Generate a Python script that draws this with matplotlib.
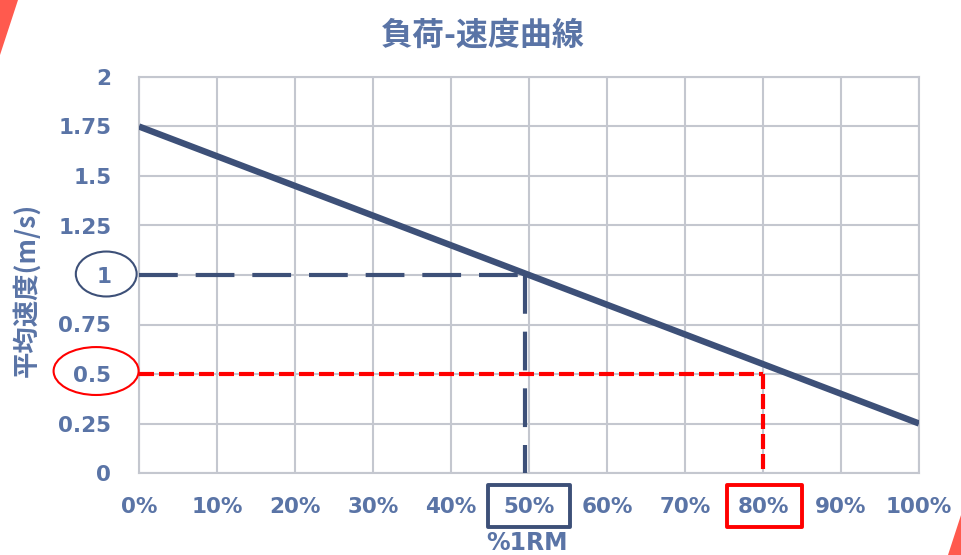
import matplotlib
matplotlib.use("Agg")
import matplotlib.pyplot as plt
from matplotlib.patches import Ellipse, Rectangle, Polygon

plt.rcParams['font.family'] = ['DejaVu Sans', 'Noto Sans CJK JP']

# Load-velocity relationship (%1RM vs mean velocity)
load_pct = [0, 100]
velocity = [1.75, 0.25]

x_ticks = [0, 10, 20, 30, 40, 50, 60, 70, 80, 90, 100]
x_labels = ['0%', '10%', '20%', '30%', '40%', '50%', '60%', '70%', '80%', '90%', '100%']
y_ticks = [0, 0.25, 0.5, 0.75, 1, 1.25, 1.5, 1.75, 2]
y_labels = ['0', '0.25', '0.5', '0.75', '1', '1.25', '1.5', '1.75', '2']

# Reference guides
guide_navy_x = 49.5
guide_navy_y = 1.0
guide_red_x = 80
guide_red_y = 0.5

title = '負荷-速度曲線'
x_title = '%1RM'
y_title = '平均速度(m/s)'

NAVY = '#3D5078'
TEXT = '#5A74A6'
GRID = '#C4C7CF'
RED = '#FF0000'
ACCENT = '#FF5A4E'

W, H = 962, 555
fig = plt.figure(figsize=(W / 100, H / 100), dpi=100)
ax = fig.add_axes([139 / W, 82 / H, 780 / W, 396 / H])

ax.set_xlim(0, 100)
ax.set_ylim(0, 2)
ax.set_xticks(x_ticks)
ax.set_xticklabels(x_labels)
ax.set_yticks(y_ticks)
ax.set_yticklabels(y_labels)
ax.grid(True, color=GRID, linewidth=1.5)
ax.set_axisbelow(True)
for s in ax.spines.values():
    s.set_color(GRID)
    s.set_linewidth(1.5)
ax.tick_params(length=0, colors=TEXT, labelsize=15.5)
ax.tick_params(axis='x', pad=17)
ax.tick_params(axis='y', pad=20)
for lbl in ax.get_xticklabels() + ax.get_yticklabels():
    lbl.set_fontweight('bold')

# Guide lines
ax.plot([0, guide_navy_x], [guide_navy_y, guide_navy_y], color=NAVY, lw=3.0,
        dashes=(9.3, 4.3), zorder=3)
ax.plot([guide_navy_x, guide_navy_x], [guide_navy_y, 0], color=NAVY, lw=3.0,
        dashes=(9.3, 4.3), zorder=3)
ax.plot([0, guide_red_x], [guide_red_y, guide_red_y], color=RED, lw=3.0,
        dashes=(3.6, 1.2), zorder=3)
ax.plot([guide_red_x, guide_red_x], [guide_red_y, 0], color=RED, lw=3.0,
        dashes=(3.6, 1.2), zorder=3)

# Main curve
ax.plot(load_pct, velocity, color=NAVY, lw=4.6, solid_capstyle='butt', zorder=4)

# Highlight marks around tick labels
ax.add_patch(Ellipse((-4.2, 1.005), 7.8, 0.227, fill=False, edgecolor=NAVY,
                     lw=1.5, clip_on=False, zorder=5))
ax.add_patch(Ellipse((-5.5, 0.515), 10.9, 0.242, fill=False, edgecolor=RED,
                     lw=1.5, clip_on=False, zorder=5))
ax.add_patch(Rectangle((44.7, -0.273), 10.6, 0.212, fill=False, edgecolor=NAVY,
                       lw=2.8, clip_on=False, zorder=5, joinstyle='round'))
ax.add_patch(Rectangle((75.4, -0.273), 9.6, 0.212, fill=False, edgecolor=RED,
                       lw=2.8, clip_on=False, zorder=5, joinstyle='round'))

fig.text(483 / W, 1 - 36 / H, title, ha='center', va='center', fontsize=23,
         fontweight='bold', color=TEXT, family=['Noto Sans CJK JP', 'DejaVu Sans'])
fig.text(527 / W, 1 - 543 / H, x_title, ha='center', va='center', fontsize=17,
         fontweight='bold', color=TEXT)
fig.text(27 / W, 1 - 290 / H, y_title, ha='center', va='center', fontsize=19,
         fontweight='bold', color=TEXT, rotation=90,
         family=['Noto Sans CJK JP', 'DejaVu Sans'])

# Corner accents
fig.patches.append(Polygon([(0, 1), (18 / W, 1), (0, 1 - 55 / H)], closed=True,
                           transform=fig.transFigure, facecolor=ACCENT,
                           edgecolor='none'))
fig.patches.append(Polygon([(1, 1 - 512 / H), (1, 0), (948 / W, 0)], closed=True,
                           transform=fig.transFigure, facecolor=ACCENT,
                           edgecolor='none'))

fig.savefig('out.png', dpi=100)
